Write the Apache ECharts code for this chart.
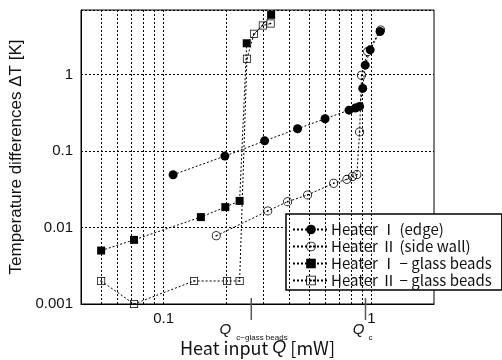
<!DOCTYPE html>
<html><head><meta charset="utf-8">
<script src="https://cdn.jsdelivr.net/npm/echarts@6/dist/echarts.min.js"></script>
<style>html,body{margin:0;padding:0;background:#fff}#c{width:502px;height:360px}</style>
</head><body><div id="c"></div>
<script>
const heater1Edge = [[0.111,0.049],[0.197,0.086],[0.306,0.136],[0.441,0.196],[0.598,0.265],[0.78,0.343],[0.837,0.366],[0.877,0.384],[0.908,0.66],[0.933,1.33],[0.986,2.11],[1.10,3.66]];
const heater2Side = [[0.179,0.0078],[0.317,0.0165],[0.395,0.0218],[0.493,0.0267],[0.658,0.038],[0.762,0.0427],[0.81,0.0465],[0.851,0.0493],[0.877,0.178],[0.896,0.98],[0.959,2.0],[1.107,3.83]];
const heater1Glass = [[0.05,0.005],[0.072,0.0069],[0.151,0.0137],[0.198,0.0185],[0.232,0.0223],[0.251,2.57],[0.329,6.06]];
const heater2Glass = [[0.05,0.002],[0.072,0.001],[0.14,0.002],[0.202,0.002],[0.232,0.002],[0.2516,1.61],[0.272,3.42],[0.300,4.39],[0.327,4.66]];
const seriesNames = ['Heater Ⅰ (edge)','Heater Ⅱ (side wall)','Heater Ⅰ − glass beads','Heater Ⅱ − glass beads'];
const xGridValues = [0.05,0.06,0.07,0.08,0.09,0.1,0.2,0.3,0.4,0.5,0.6,0.7,0.8,0.9,1];
const xTickLabels = {'0.1':'0.1','1':'1'};
const yTickLabels = {'0.001':'0.001','0.01':'0.01','0.1':'0.1','1':'1'};
const criticalQ = [{value:0.264, sub:'c−glass beads'},{value:0.936, sub:'c'}];

const openCircle = 'path://M0,-10A10,10 0 1,1 0,10A10,10 0 1,1 0,-10Z M0,-8.2A8.2,8.2 0 1,0 0,8.2A8.2,8.2 0 1,0 0,-8.2Z M0,-1.8A1.8,1.8 0 1,1 0,1.8A1.8,1.8 0 1,1 0,-1.8Z';
const openSquare = 'path://M-10,-10H10V10H-10Z M-8.2,-8.2V8.2H8.2V-8.2Z M-1.8,-1.8H1.8V1.8H-1.8Z';

function labelFor(map, v){
  for (const k in map){ if (Math.abs(Math.log10(v) - Math.log10(parseFloat(k))) < 1e-6) return map[k]; }
  return '';
}
const dash = {type:[2,2], color:'#000', width:1};
function mk(name, data, symbol, size){
  return {name, type:'line', data, symbol, symbolSize:size, clip:false,
    lineStyle:{color:'#000', width:1, type:[2,2]},
    itemStyle:{color:'#000', opacity:1}, emphasis:{disabled:true}, z:3};
}
const chart = echarts.init(document.getElementById('c'), null, {renderer:'canvas'});
chart.setOption({
  animation:false,
  backgroundColor:'#fff',
  textStyle:{fontFamily:'Liberation Sans'},
  grid:{left:81, top:10, right:68, bottom:56, outerBoundsMode:'none', containLabel:false, show:true, borderColor:'#000', borderWidth:1, backgroundColor:'transparent'},
  xAxis:{type:'log', logBase:10, min:0.04, max:2,
    axisLine:{lineStyle:{color:'#000'}}, axisTick:{show:false}, splitLine:{show:false},
    axisLabel:{color:'#111', fontSize:15, margin:7, formatter:v=>labelFor(xTickLabels,v), showMinLabel:false, showMaxLabel:false},
    name:'{a|Heat input }{q|Q}{a| [mW]}', nameLocation:'middle', nameGap:35,
    nameTextStyle:{rich:{a:{fontSize:18, color:'#111', fontFamily:'Noto Sans CJK JP'}, q:{fontSize:18, fontStyle:'italic', color:'#111', fontFamily:'Liberation Sans'}}}
  },
  yAxis:{type:'log', logBase:10, min:0.001, max:7,
    axisLine:{lineStyle:{color:'#000'}}, axisTick:{show:false},
    splitLine:{show:true, lineStyle:dash},
    axisLabel:{color:'#111', fontSize:15, margin:8, formatter:v=>labelFor(yTickLabels,v), showMaxLabel:false},
    name:'Temperature differences ΔT [K]', nameLocation:'middle', nameGap:55,
    nameTextStyle:{fontSize:17, color:'#111', fontFamily:'Liberation Sans'}
  },
  legend:{data:seriesNames, orient:'vertical', left:286, top:214, itemGap:2,
    itemWidth:36, itemHeight:12, padding:[8,10,2,6],
    backgroundColor:'#fff', borderColor:'#000', borderWidth:1.5, borderRadius:0,
    textStyle:{fontSize:15, color:'#111', fontFamily:'Noto Sans CJK JP', padding:[0,0,0,-3]}
  },
  series:[
    {name:'grid', type:'line', data:[], silent:true, z:1,
      markLine:{silent:true, symbol:['none','none'], label:{show:false}, animation:false,
        lineStyle:dash, emphasis:{disabled:true},
        data:xGridValues.map(v=>({xAxis:v}))}},
    mk(seriesNames[0], heater1Edge, 'circle', 9),
    mk(seriesNames[1], heater2Side, openCircle, 9),
    mk(seriesNames[2], heater1Glass, 'rect', 8),
    mk(seriesNames[3], heater2Glass, openSquare, 8)
  ]
});
const y0 = chart.convertToPixel({yAxisIndex:0}, 0.001);
const g = [];
criticalQ.forEach(q=>{
  const x = chart.convertToPixel({xAxisIndex:0}, q.value);
  g.push({type:'line', shape:{x1:x, y1:y0-6, x2:x, y2:y0+16}, style:{stroke:'#555', lineWidth:1.5}, z:10});
  const long = q.sub.length > 2;
  g.push({type:'text', x: long ? x-20 : x-1, y:y0+26, style:{text:'Q', font:'italic 15px Liberation Sans', fill:'#111', align:'right', verticalAlign:'middle'}, z:10});
  g.push({type:'text', x: long ? x-15 : x+3, y:y0+34, style:{text:q.sub, font:'8px Liberation Sans', fill:'#111', align:'left', verticalAlign:'middle'}, z:10});
});
chart.setOption({graphic:g});
</script></body></html>
